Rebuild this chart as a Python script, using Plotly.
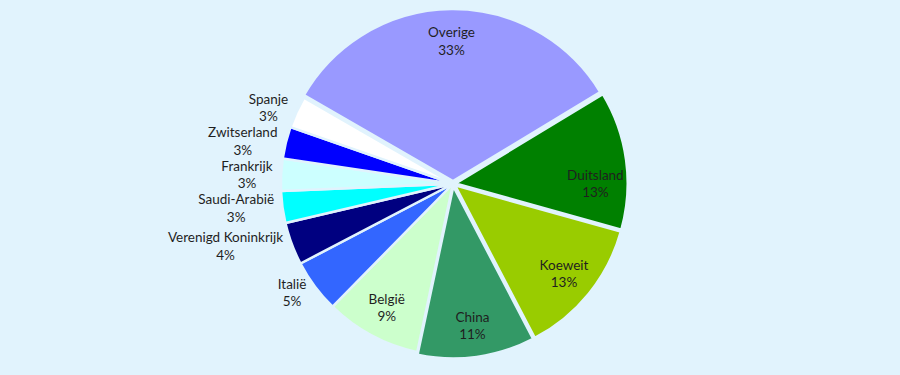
import plotly.graph_objects as go

labels = ["Overige", "Duitsland", "Koeweit", "China", "België", "Italië",
          "Verenigd Koninkrijk", "Saudi-Arabië", "Frankrijk", "Zwitserland", "Spanje"]
values = [33, 13, 13, 11, 9, 5, 4, 3, 3, 3, 3]
colors = ["#9999ff", "#008000", "#99cc00", "#339966", "#ccffcc", "#3366ff",
          "#000080", "#00ffff", "#ccffff", "#0000ff", "#ffffff"]
label_inside = [True, True, True, True, True, False, False, False, False, False, False]
pulls = [0.015, 0.015, 0.015, 0.015, 0, 0, 0, 0, 0, 0, 0]

bg = "#e1f3fd"
font = dict(family="Lato", size=13.5, color="#1f1f1f")
dom = dict(x=[0.3092, 0.6975], y=[0.044, 0.976])

# main pie: slices + outside labels of the small slices
outer_tpl = ["" if ins else "%{label}<br>%{percent:.0%}" for ins in label_inside]
fig = go.Figure(go.Pie(
    labels=labels,
    values=values,
    sort=False,
    direction="clockwise",
    rotation=-60,
    pull=pulls,
    marker=dict(colors=colors, line=dict(color=bg, width=2.5)),
    texttemplate=outer_tpl,
    textposition=["none" if ins else "outside" for ins in label_inside],
    outsidetextfont=font,
    hoverinfo="label+percent",
    domain=dom,
    showlegend=False,
))

# transparent ring carrying the inside labels further out, as in the original
inner_tpl = ["%{label}<br>%{percent:.0%}" if ins else "" for ins in label_inside]
fig.add_trace(go.Pie(
    labels=labels,
    values=values,
    sort=False,
    direction="clockwise",
    rotation=-60,
    pull=pulls,
    hole=0.63,
    marker=dict(colors=["rgba(0,0,0,0)"] * len(values), line=dict(width=0)),
    texttemplate=inner_tpl,
    textposition=["inside" if ins else "none" for ins in label_inside],
    insidetextorientation="horizontal",
    insidetextfont=font,
    hoverinfo="skip",
    domain=dom,
    showlegend=False,
))

fig.update_layout(
    width=900, height=375,
    autosize=False,
    margin=dict(l=0, r=0, t=0, b=0, autoexpand=False),
    paper_bgcolor=bg,
    plot_bgcolor=bg,
)

js = """
document.body.style.margin='0';
document.body.style.background='%s';
var st=document.createElement('style');
st.innerHTML='path.textline{display:none !important;}';
document.head.appendChild(st);
""" % bg

fig.write_html("out.html", config={"displayModeBar": False}, post_script=js)
